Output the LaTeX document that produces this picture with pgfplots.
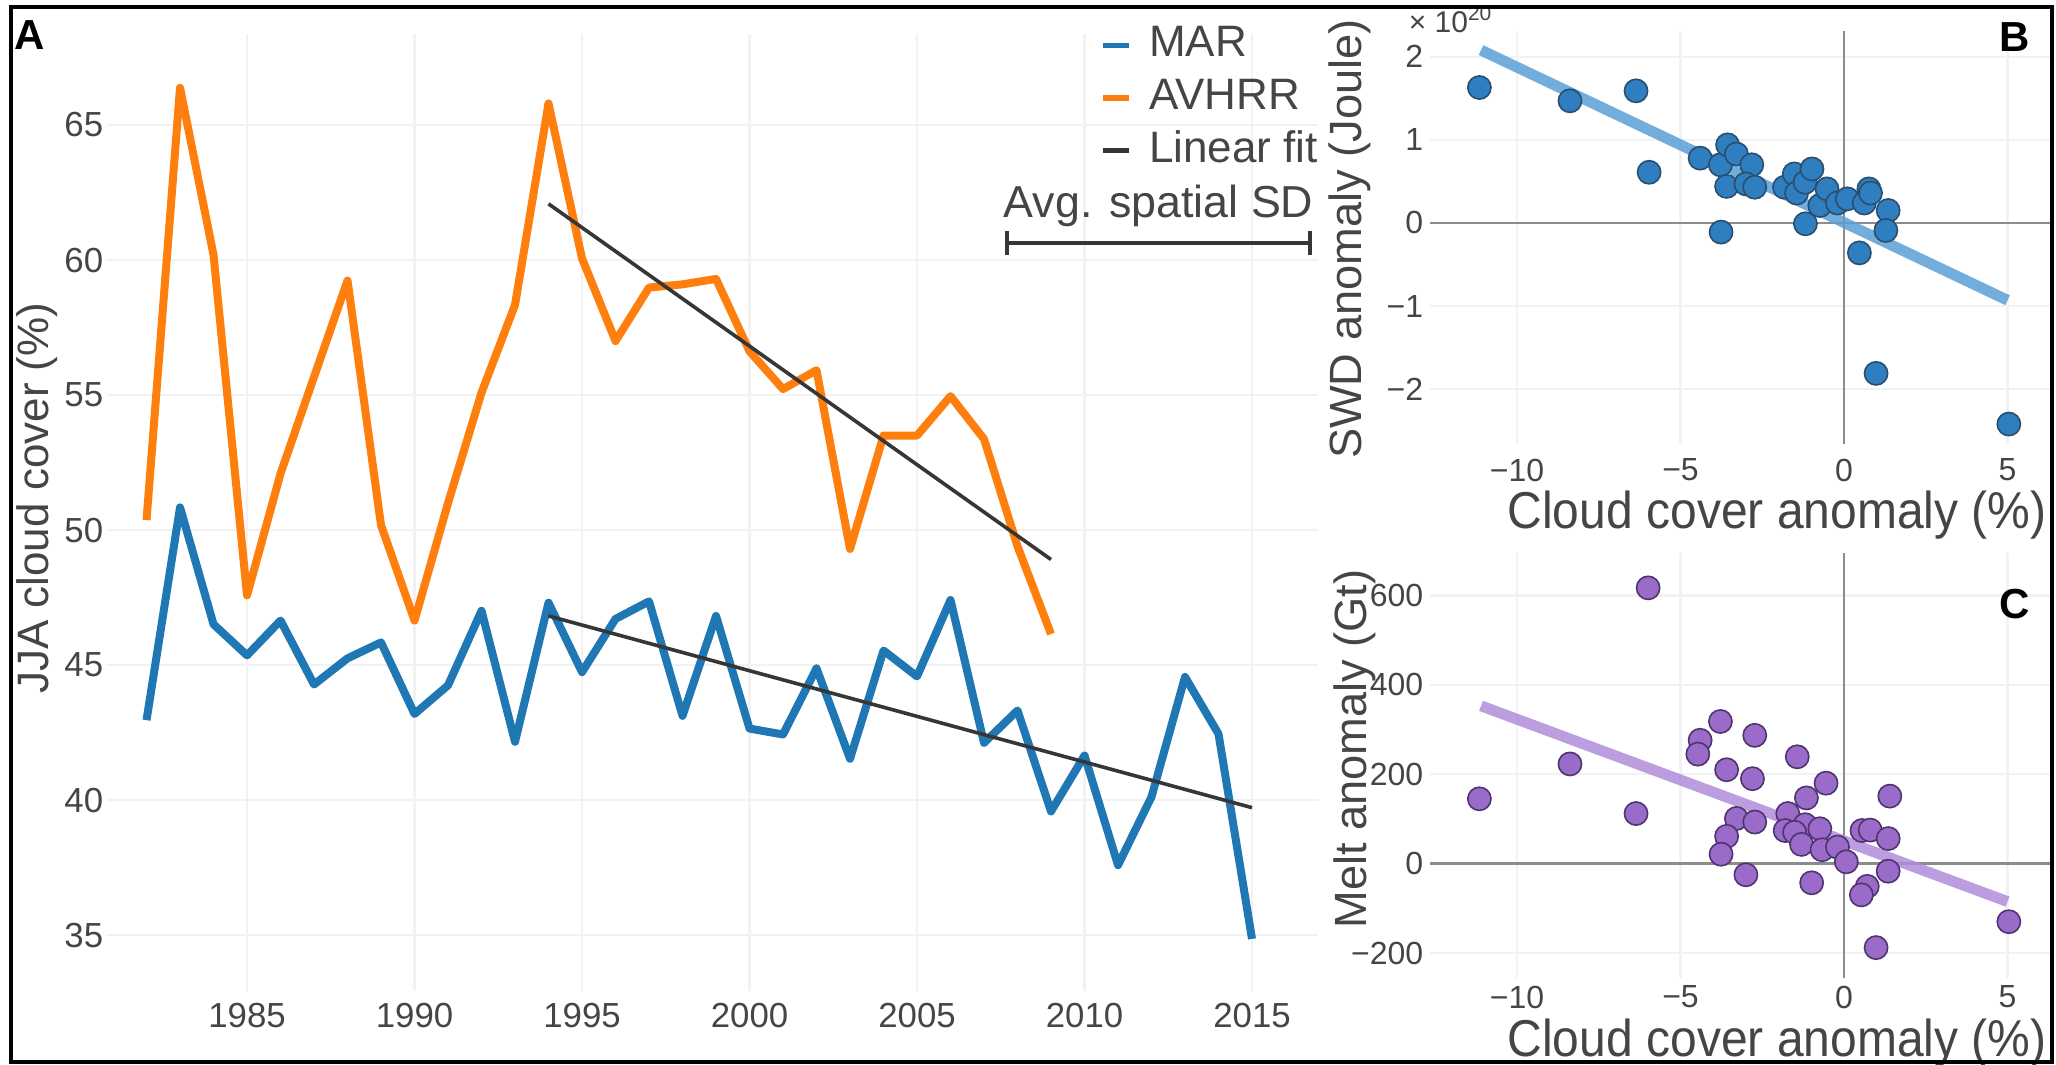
\documentclass[border=0pt]{standalone}
\usepackage{pgfplots}
\pgfplotsset{compat=1.18}
\usepackage{fontspec}
\setmainfont{Liberation Sans}
\definecolor{marblue}{HTML}{1F77B4}
\definecolor{avorange}{HTML}{FF7F0E}
\definecolor{fitgray}{HTML}{363636}
\definecolor{gridc}{HTML}{F2F2F2}
\definecolor{txt}{HTML}{454545}
\definecolor{bdot}{HTML}{2F7EC0}
\definecolor{bedge}{HTML}{2A4E70}
\definecolor{bline}{HTML}{5A9FD6}
\definecolor{cdot}{HTML}{9A6BC8}
\definecolor{cedge}{HTML}{4E3470}
\definecolor{cline}{HTML}{AF8CDB}
\definecolor{zeroc}{HTML}{8C8C8C}

\pgfplotstableread{
year val
1982 42.96
1983 50.84
1984 46.51
1985 45.36
1986 46.65
1987 44.28
1988 45.25
1989 45.84
1990 43.19
1991 44.25
1992 47.01
1993 42.16
1994 47.31
1995 44.74
1996 46.71
1997 47.36
1998 43.12
1999 46.82
2000 42.65
2001 42.43
2002 44.88
2003 41.53
2004 45.54
2005 44.58
2006 47.41
2007 42.12
2008 43.32
2009 39.58
2010 41.65
2011 37.59
2012 40.12
2013 44.56
2014 42.45
2015 34.86
}\mar

\pgfplotstableread{
year val
1982 50.37
1983 66.38
1984 60.19
1985 47.58
1986 52.09
1987 55.67
1988 59.24
1989 50.18
1990 46.65
1991 51.00
1992 55.09
1993 58.34
1994 65.80
1995 60.06
1996 57.00
1997 58.98
1998 59.10
1999 59.30
2000 56.62
2001 55.22
2002 55.92
2003 49.30
2004 53.50
2005 53.50
2006 54.96
2007 53.37
2008 49.40
2009 46.15
}\avhrr

\pgfplotstableread{
x y
-11.15 1.63
-8.38 1.47
-6.36 1.59
-5.96 0.61
-4.40 0.78
-3.78 0.70
-3.56 0.94
-3.29 0.83
-3.59 0.44
-3.76 -0.11
-2.82 0.70
-3.00 0.47
-2.73 0.43
-1.82 0.43
-1.52 0.59
-1.45 0.36
-1.19 0.49
-0.98 0.65
-1.18 -0.01
-0.74 0.21
-0.52 0.41
-0.20 0.24
0.10 0.29
0.62 0.24
0.76 0.41
0.81 0.36
1.35 0.15
1.28 -0.09
0.47 -0.36
0.98 -1.81
5.04 -2.42
}\swd

\pgfplotstableread{
x y
-5.99 617
-11.15 145
-8.38 223
-6.36 112
-3.78 318
-4.40 276
-4.47 245
-3.59 210
-2.73 287
-2.80 190
-3.29 101
-2.73 93
-3.59 61
-3.76 21
-3.00 -25
-1.43 239
-0.55 180
-1.15 147
-1.72 112
-1.19 87
-1.80 74
-1.51 70
-0.74 78
-1.30 43
-0.67 31
-0.20 37
0.07 4
-0.99 -43
0.55 74
0.80 75
1.35 56
1.40 151
1.35 -17
0.71 -51
0.53 -70
0.98 -188
5.04 -130
}\melt

\pgfplotsset{
  common/.style={
    scale only axis,
    axis line style={draw=none},
    major tick length=0pt,
    grid=major,
    major grid style={gridc, line width=0.6pt},
    tick label style={text=txt, inner sep=0pt},
    label style={text=txt},
    /pgf/number format/assume math mode=true,
  },
  zerolines/.style={
    extra x ticks={0}, extra y ticks={0},
    extra x tick labels={}, extra y tick labels={},
    extra tick style={grid=major, major grid style={zeroc, line width=0.6pt}},
  },
}

\begin{document}
\begin{tikzpicture}
\useasboundingbox (0,0) rectangle (514pt,266pt);

% ---------- Panel A ----------
\begin{axis}[common,
  at={(26.75pt,18.25pt)}, anchor=south west,
  width=302.75pt, height=239.25pt,
  xmin=1980.82, xmax=2016.97, ymin=32.93, ymax=68.37,
  xtick={1985,1990,1995,2000,2005,2010,2015},
  xticklabels={1985,1990,1995,2000,2005,2010,2015},
  ytick={35,40,45,50,55,60,65},
  yticklabels={35,40,45,50,55,60,65},
  tick label style={font=\fontsize{8.7}{10}\selectfont},
  xticklabel style={yshift=-2.75pt},
  yticklabel style={xshift=-0.75pt},
  ylabel={JJA cloud cover (\%)},
  ylabel style={at={(rel axis cs:-0.0578,0.515)}, anchor=center, font=\fontsize{11}{13}\selectfont},
  legend style={at={(rel axis cs:0.82,1.0104)}, anchor=north west, draw=none, fill=none,
    inner sep=0pt, row sep=3pt, column sep=4.25pt, font=\fontsize{11}{13}\selectfont, text=txt,
    nodes={inner sep=0pt, text height=8pt, text depth=2.2pt, anchor=west}},
  legend cell align=left,
  legend image code/.code={\draw[#1, line width=1.3pt] (0pt,0pt) -- (6.5pt,0pt);},
]
\addplot[marblue, line width=2pt, line join=round] table[x=year,y=val] {\mar};
\addlegendentry{MAR}
\addplot[avorange, line width=2pt, line join=round] table[x=year,y=val] {\avhrr};
\addlegendentry{AVHRR}
\addplot[fitgray, line width=0.9pt] coordinates {(1994,62.08) (2009,48.91)};
\addlegendentry{Linear fit}
\addplot[fitgray, line width=0.9pt, forget plot] coordinates {(1994,46.82) (2015,39.72)};
\node[anchor=base, text=txt, font=\fontsize{11.2}{13}\selectfont] at (axis cs:2012.21,61.59) {Avg. spatial SD};
\draw[fitgray, line width=0.9pt] (axis cs:2007.69,60.63) -- (axis cs:2016.73,60.63);
\draw[fitgray, line width=0.9pt] (axis cs:2007.69,60.19) -- (axis cs:2007.69,61.07);
\draw[fitgray, line width=0.9pt] (axis cs:2016.73,60.19) -- (axis cs:2016.73,61.07);
\end{axis}

% ---------- Panel B ----------
\begin{axis}[common, zerolines,
  at={(357.5pt,155pt)}, anchor=south west,
  width=155.5pt, height=103.25pt,
  xmin=-12.66, xmax=6.36, ymin=-2.66, ymax=2.31,
  xtick={-10,-5,0,5}, xticklabels={−10,−5,0,5},
  ytick={-2,-1,0,1,2}, yticklabels={−2,−1,0,1,2},
  tick label style={font=\fontsize{8}{10}\selectfont},
  xticklabel style={yshift=-3.5pt},
  yticklabel style={xshift=-1.5pt},
  xlabel={Cloud cover anomaly (\%)},
  xlabel style={at={(rel axis cs:0.558,-0.172)}, anchor=center, font=\fontsize{12}{14}\selectfont, inner sep=0pt, yscale=1.08},
  ylabel={SWD anomaly (Joule)},
  ylabel style={at={(rel axis cs:-0.1286,0.496)}, anchor=center, font=\fontsize{11.3}{13}\selectfont},
]
\addplot[only marks, mark=*, mark size=2.9pt, mark options={fill=bdot, draw=bedge, line width=0.4pt}] table[x=x,y=y] {\swd};
\addplot[bline, line width=2.7pt, opacity=0.85] coordinates {(-11.1,2.08) (5.0,-0.93)};
\end{axis}

% ---------- Panel C ----------
\begin{axis}[common, zerolines,
  at={(357.5pt,21.5pt)}, anchor=south west,
  width=155.5pt, height=106.25pt,
  xmin=-12.66, xmax=6.36, ymin=-256, ymax=695,
  xtick={-10,-5,0,5}, xticklabels={−10,−5,0,5},
  ytick={-200,0,200,400,600}, yticklabels={−200,0,200,400,600},
  tick label style={font=\fontsize{8}{10}\selectfont},
  xticklabel style={yshift=-1.75pt},
  yticklabel style={xshift=-1.5pt},
  xlabel={Cloud cover anomaly (\%)},
  xlabel style={at={(rel axis cs:0.558,-0.153)}, anchor=center, font=\fontsize{12}{14}\selectfont, inner sep=0pt, yscale=1.08},
  ylabel={Melt anomaly (Gt)},
  ylabel style={at={(rel axis cs:-0.1206,0.539)}, anchor=center, font=\fontsize{11.3}{13}\selectfont},
]
\addplot[only marks, mark=*, mark size=2.9pt, mark options={fill=cdot, draw=cedge, line width=0.4pt}] table[x=x,y=y] {\melt};
\addplot[cline, line width=2.7pt, opacity=0.85] coordinates {(-11.1,353) (5.0,-85)};
\end{axis}

% ---------- labels and frame ----------
\node[font=\fontsize{10.5}{12}\selectfont\bfseries] at (7.5pt,257.25pt) {A};
\node[font=\fontsize{10.5}{12}\selectfont\bfseries] at (503.75pt,256.75pt) {B};
\node[font=\fontsize{10.5}{12}\selectfont\bfseries] at (503.75pt,115pt) {C};
\node[anchor=base west, inner sep=0pt, text=txt, font=\fontsize{7.5}{9}\selectfont] at (352pt,257.8pt) {× 10\textsuperscript{20}};
\draw[black, line width=0.8pt] (2.75pt,0.5pt) rectangle (513pt,264.25pt);
\end{tikzpicture}
\end{document}
